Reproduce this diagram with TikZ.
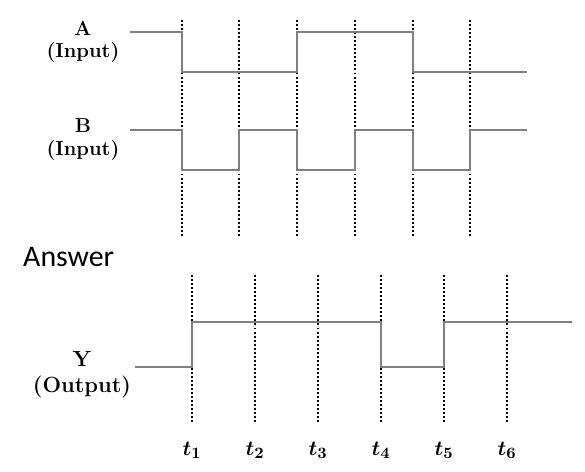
\documentclass[tikz,border=0pt]{standalone}
\usepackage{amsmath}
\usepackage{bm}
\usepackage{fontspec}
\newfontfamily\answerfont{Carlito}
\usepackage{tikz}
\usetikzlibrary{calc}

\begin{document}
\begin{tikzpicture}[x=0.02cm, y=-0.02cm,
  sig/.style={draw=gray, line width=1.1pt, line join=miter},
  timeline/.style={draw=black, line width=1.1pt, dash pattern=on 1.1pt off 1.2pt},
  lbl/.style={font=\bfseries\fontsize{11.5}{13}\selectfont, align=center},
  tlbl/.style={font=\fontsize{13}{15}\selectfont}]
\useasboundingbox (0,0) rectangle (585,472);
% time marks for the inputs
\foreach\x in {182,239,297,355,413,470}{
  \draw[timeline] (\x,20) -- (\x,238);
}
% input A
\draw[sig] (130,32) -- (182,32) -- (182,72) -- (297,72) -- (297,32)
  -- (413,32) -- (413,72) -- (527,72);
% input B
\draw[sig] (130,130) -- (182,130) -- (182,170) -- (239,170) -- (239,130)
  -- (297,130) -- (297,170) -- (355,170) -- (355,130) -- (413,130)
  -- (413,170) -- (470,170) -- (470,130) -- (527,130);
\node[lbl] (lblA) at (83,42) {A\\(Input)};
\node[lbl] (lblB) at (83,140) {B\\(Input)};
\node[anchor=west, font=\answerfont\fontsize{17}{20}\selectfont] (ans) at (17,257) {Answer};
% time marks for the output
\foreach\x[count=\i] in {192,255,318,381,444,507}{
  \draw[timeline] (\x,275) -- (\x,423);
  \node[tlbl] (t\i) at (\x,450) {$\bm{t_{\i}}$};
}
% output Y
\draw[sig] (135,367) -- (192,367) -- (192,322) -- (381,322) -- (381,367)
  -- (444,367) -- (444,322) -- (572,322);
\node[lbl, font=\bfseries\fontsize{12.5}{15}\selectfont] (lblY) at (82,375) {Y\\(Output)};
\end{tikzpicture}
\end{document}
